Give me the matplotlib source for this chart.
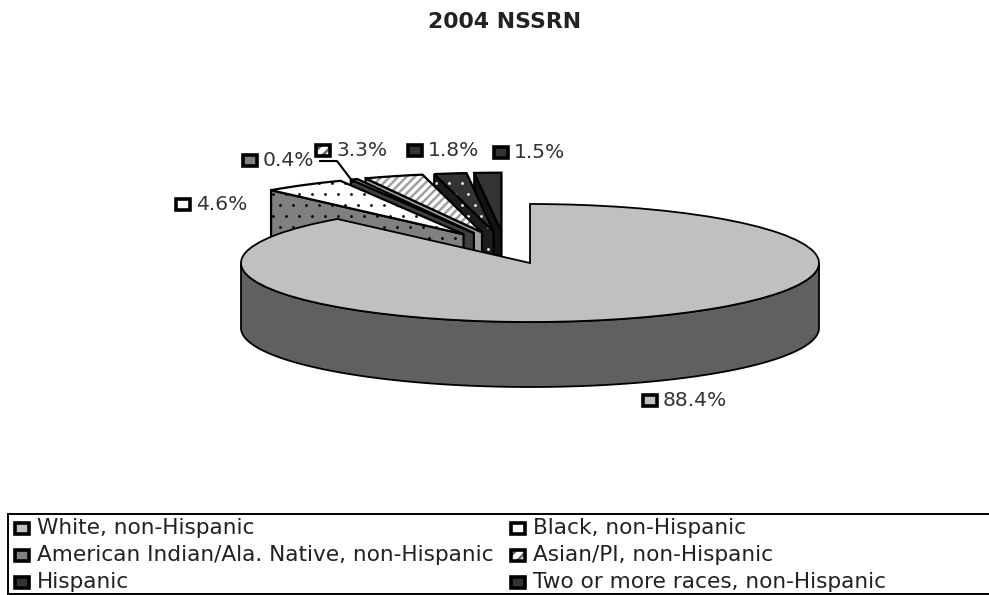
import numpy as np
import matplotlib
matplotlib.use("Agg")
import matplotlib.pyplot as plt
from matplotlib.patches import Polygon, Rectangle, Wedge

TITLE = "2004 NSSRN"
categories = [
    "White, non-Hispanic",
    "Black, non-Hispanic",
    "American Indian/Ala. Native, non-Hispanic",
    "Asian/PI, non-Hispanic",
    "Hispanic",
    "Two or more races, non-Hispanic",
]
shares = [88.4, 4.6, 0.4, 3.3, 1.8, 1.5]

W, H = 989, 595
CX, CY, RX, RY = 530, 263, 289, 59   # pie centre and ellipse radii, px
DEPTH = 65 / RY                      # extrusion in y data units
explode = [0, 0.26, 0.26, 0.26, 0.26, 0.26]
group_shift = (-25 / RX, 16 / RY)

# slice styles: top fill, wall fill, texture kind, texture colour
styles = [
    ("#c0c0c0", "#606060", None, None),
    ("#ffffff", "#808080", "dots", "black"),
    ("#808080", "#404040", None, None),
    ("#ffffff", "#a0a0a0", "stripes", "#a0a0a0"),
    ("#333333", "#1c1c1c", "dots", "white"),
    ("#333333", "#141414", None, None),
]
key_styles = ["#c0c0c0", "#ffffff", "#808080", "#ffffff", "#333333", "#333333"]

label_pos = [(649.5, 400.5), (182.5, 204), (249.5, 160), (322.5, 150.5), (414.5, 150.5), (500.5, 152.5)]
legend_cols = [22, 518]
legend_rows = [528, 555, 582]

plt.rcParams["font.family"] = ["DejaVu Sans"]
plt.rcParams["hatch.linewidth"] = 1.8

fig = plt.figure(figsize=(W / 100, H / 100), dpi=100)
ax = fig.add_axes([0, 0, 1, 1])
wedges, _ = ax.pie(shares, explode=explode, startangle=90, counterclock=False,
                   radius=1, wedgeprops={"linewidth": 0})
ax.set_aspect("auto")
ax.set_xlim(-CX / RX, (W - CX) / RX)
ax.set_ylim((CY - H) / RY, CY / RY)
ax.axis("off")

# Staggered stipple lattice shared by all dotted faces
gx, gy = np.meshgrid(np.arange(0, 560, 13.0), np.arange(150, 300, 11.0))
gx[1::2] += 6.5
dots_x = (gx.ravel() - CX) / RX
dots_y = (CY - gy.ravel()) / RY


def textured(patch_cls, *args, fill, kind, color, zorder, lw, **kw):
    """Fill a patch, add its stipple or stripes, then stroke a black outline."""
    base = patch_cls(*args, facecolor=fill, edgecolor="none", zorder=zorder, **kw)
    ax.add_patch(base)
    if kind == "dots":
        pts = ax.scatter(dots_x, dots_y, s=4, color=color, linewidths=0, zorder=zorder)
        pts.set_clip_path(base)
    elif kind == "stripes":
        ax.add_patch(patch_cls(*args, facecolor="none", edgecolor=color, hatch="////",
                               linewidth=0, zorder=zorder, **kw))
    ax.add_patch(patch_cls(*args, facecolor="none", edgecolor="black",
                           linewidth=lw, zorder=zorder, **kw))


# Exploded slices are painted from the back (right) to the front (left),
# the large slice goes last and covers the feet of their walls.
for i in range(len(shares) - 1, -1, -1):
    w = wedges[i]
    w.set_visible(False)
    top, wall, kind, tcol = styles[i]
    cx, cy = w.center
    if i > 0:
        cx += group_shift[0]
        cy += group_shift[1]
    z = 10 + (len(shares) - i) * 2
    lw = 1.3 if i == 0 else 1.6
    if i == 0:
        # curved front wall of the large slice
        t = np.radians(np.linspace(-180, 0, 200))
        xs, ys = cx + np.cos(t), cy + np.sin(t)
        pts = np.r_[np.c_[xs, ys], np.c_[xs[::-1], ys[::-1] - DEPTH]]
        textured(Polygon, pts, fill=wall, kind=None, color=None, zorder=z, lw=lw)
    else:
        # flat cut wall below the slice's left radial edge
        a = np.radians(w.theta2)
        rim = (cx + np.cos(a), cy + np.sin(a))
        pts = [(cx, cy), rim, (rim[0], rim[1] - DEPTH), (cx, cy - DEPTH)]
        textured(Polygon, pts, fill=wall, kind=kind, color=tcol, zorder=z, lw=lw)
    textured(Wedge, (cx, cy), 1, w.theta1, w.theta2, fill=top, kind=kind,
             color=tcol, zorder=z + 1, lw=lw)

# Overlay in pixel units for keys, value labels and the legend frame
ov = fig.add_axes([0, 0, 1, 1], facecolor="none")
ov.set_xlim(0, W)
ov.set_ylim(H, 0)
ov.axis("off")


def key(x, y, color, striped):
    if striped:
        ov.add_patch(Rectangle((x - 7, y - 5.5), 14, 11, facecolor=color, edgecolor="#666666",
                               hatch="///", linewidth=0, zorder=30))
    else:
        ov.add_patch(Rectangle((x - 7, y - 5.5), 14, 11, facecolor=color, edgecolor="none",
                               zorder=30))
    ov.add_patch(Rectangle((x - 7, y - 5.5), 14, 11, facecolor="none", edgecolor="black",
                           linewidth=2.6, zorder=30))


ov.text(505, 22, TITLE, ha="center", va="center", fontsize=15.8,
        fontweight="bold", color="#222222")

for n, (v, (x, y), c) in enumerate(zip(shares, label_pos, key_styles)):
    key(x, y, c, n == 3)
    ov.text(x + 13.5, y, f"{v}%", ha="left", va="center", fontsize=14.6, color="#333333")

# Leader line for the thin slices beside the label
ov.plot([320, 337, 353], [161, 161, 182], color="black", lw=1.5, zorder=30)

ov.add_patch(Rectangle((8, 514), W, 80, facecolor="white", edgecolor="black", linewidth=1.4))
for n, name in enumerate(categories):
    x = legend_cols[n % 2]
    y = legend_rows[n // 2]
    key(x, y, key_styles[n], n == 3)
    ov.text(x + 15, y, name, ha="left", va="center", fontsize=15.6,
            color="#222222")

fig.savefig("out.png", dpi=100)
